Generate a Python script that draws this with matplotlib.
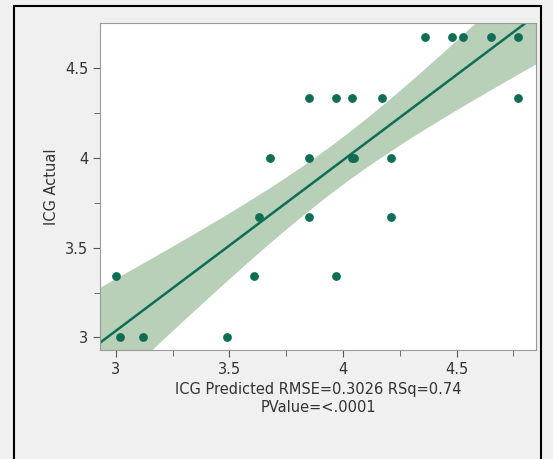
import numpy as np
import matplotlib.pyplot as plt
from matplotlib.patches import Rectangle

predicted = [3.0, 3.02, 3.12, 3.49, 3.61, 3.63, 3.68, 3.85, 3.85, 3.85, 3.97, 3.97,
             4.04, 4.04, 4.05, 4.17, 4.21, 4.21, 4.36, 4.48, 4.53, 4.65, 4.77, 4.77]
actual = [3.34, 3.0, 3.0, 3.0, 3.34, 3.67, 4.0, 4.33, 4.0, 3.67, 4.33, 3.34,
          4.33, 4.0, 4.0, 4.33, 4.0, 3.67, 4.67, 4.67, 4.67, 4.67, 4.67, 4.33]

x = np.array(predicted)
y = np.array(actual)
n = len(x)
b, a = np.polyfit(x, y, 1)
resid = y - (a + b * x)
s = np.sqrt(np.sum(resid**2) / (n - 2))
xs = np.linspace(2.93, 4.85, 200)
fit = a + b * xs
se = s * np.sqrt(1/n + (xs - x.mean())**2 / np.sum((x - x.mean())**2))
t = 2.074

green = '#0e6e55'
fig = plt.figure(figsize=(5.53, 4.59), dpi=100)
fig.patch.set_facecolor('#f0f0f0')
fig.patches.append(Rectangle((14/553, -0.01), 527/553, 1 - 6/459 + 0.01, transform=fig.transFigure,
                             fill=False, edgecolor='black', linewidth=1.5))
ax = fig.add_axes([100/553, 1 - 350/459, 436/553, 327/459])
ax.fill_between(xs, fit - t*se, fit + t*se, color='#b8d0b8', linewidth=0)
ax.plot(xs, fit, color=green, linewidth=1.8)
ax.scatter(x, y, s=28, color=green, zorder=3)
ax.set_xlim(2.93, 4.85)
ax.set_ylim(2.93, 4.75)
ax.set_xticks([3, 3.5, 4, 4.5], ['3', '3.5', '4', '4.5'])
ax.set_xticks([3.25, 3.75, 4.25, 4.75], minor=True)
ax.set_yticks([3, 3.5, 4, 4.5], ['3', '3.5', '4', '4.5'])
ax.set_yticks([3.25, 3.75, 4.25], minor=True)
ax.tick_params(labelsize=10.5, color='#555555', length=5, labelcolor='#333333')
ax.tick_params(which='minor', color='#555555', length=4)
for sp in ax.spines.values():
    sp.set_color('#999999')
ax.set_ylabel('ICG Actual', fontsize=10.5, color='#333333')
ax.set_xlabel('ICG Predicted RMSE=0.3026 RSq=0.74\nPValue=<.0001', fontsize=10.5, color='#333333')
fig.savefig('out.png', dpi=100, facecolor=fig.get_facecolor())
